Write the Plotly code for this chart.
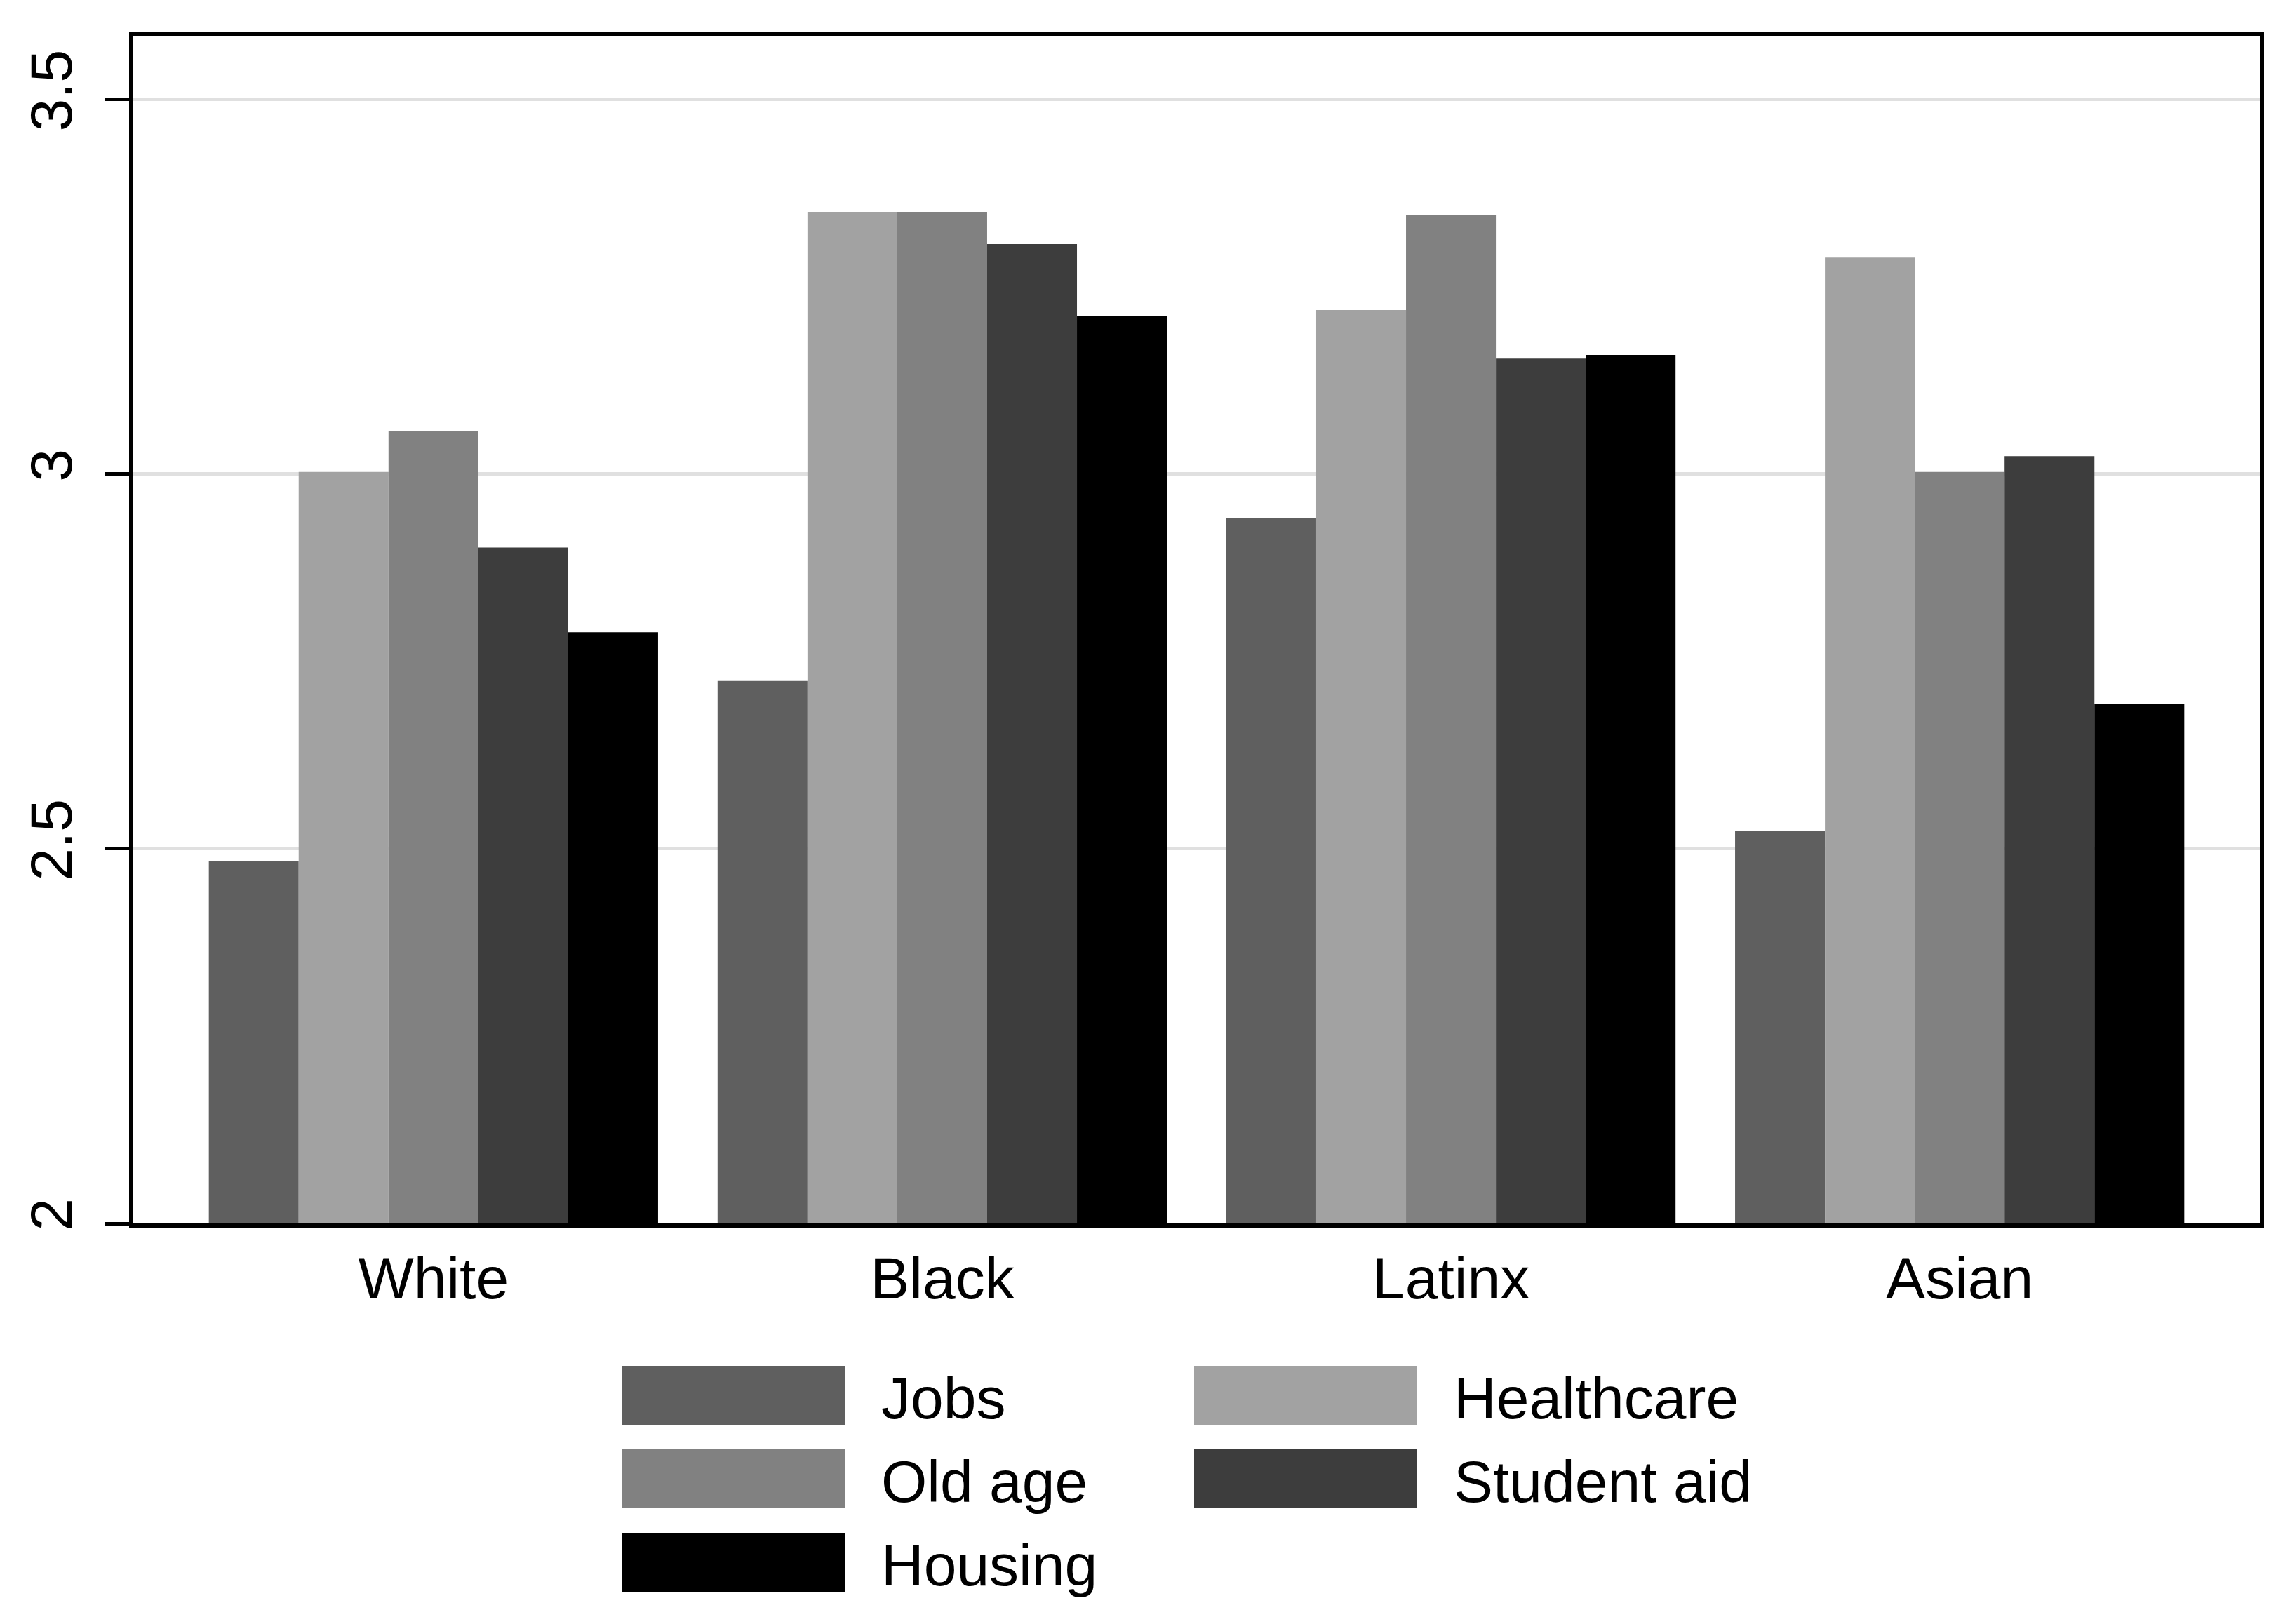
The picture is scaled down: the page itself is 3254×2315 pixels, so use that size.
import plotly.graph_objects as go

# ---- data ----
categories = ["White", "Black", "Latinx", "Asian"]
series_names = ["Jobs", "Healthcare", "Old age", "Student aid", "Housing"]
jobs = [2.484, 2.724, 2.941, 2.524]
healthcare = [3.003, 3.350, 3.219, 3.289]
old_age = [3.058, 3.350, 3.346, 3.003]
student_aid = [2.902, 3.307, 3.154, 3.024]
housing = [2.789, 3.211, 3.159, 2.693]
series_values = [jobs, healthcare, old_age, student_aid, housing]
series_colors = ["#5f5f5f", "#a2a2a2", "#818181", "#3d3d3d", "#000000"]
y_tickvals = [2, 2.5, 3, 3.5]
y_ticktext = ["2", "2.5", "3", "3.5"]

W, H = 3254, 2315
ML, MR, MT, MB = 182, 41, 43, 579
PW, PH = W - ML - MR, H - MT - MB
FONT = "Liberation Sans, Arial, Helvetica, sans-serif"


def px_x(p):
    return (p - ML) / PW


def px_y(p):
    return (H - MB - p) / PH


fig = go.Figure()
for name, vals, col in zip(series_names, series_values, series_colors):
    fig.add_trace(go.Bar(
        x=categories, y=vals, name=name,
        marker=dict(color=col, line=dict(width=0)),
        showlegend=False,
    ))

# ---- legend drawn as layout shapes / annotations (2 columns, row-major) ----
col_x0 = [878, 1694]
sw_w, sw_h = 318, 84
row_top0, row_pitch = 1939, 119
text_gap = 50
shapes = []
annotations = []
for i, (name, col) in enumerate(zip(series_names, series_colors)):
    r, c = divmod(i, 2)
    x0 = col_x0[c]
    y0 = row_top0 + r * row_pitch
    shapes.append(dict(
        type="rect", xref="paper", yref="paper",
        x0=px_x(x0), x1=px_x(x0 + sw_w),
        y0=px_y(y0 + sw_h), y1=px_y(y0),
        fillcolor=col, line=dict(width=0), layer="above",
    ))
    annotations.append(dict(
        xref="paper", yref="paper",
        x=px_x(x0 + sw_w + text_gap), y=px_y(y0 + sw_h / 2 + 4),
        xanchor="left", yanchor="middle", showarrow=False,
        text=name, font=dict(family=FONT, size=84, color="black"),
    ))

fig.update_layout(
    width=W, height=H,
    margin=dict(l=ML, r=MR, t=MT, b=MB, pad=0),
    paper_bgcolor="white", plot_bgcolor="white",
    barmode="group", bargap=0.117, bargroupgap=0,
    font=dict(family=FONT, size=84, color="black"),
    shapes=shapes, annotations=annotations,
    showlegend=False,
)
fig.update_xaxes(
    range=[-0.59, 3.59],
    showline=True, linecolor="black", linewidth=6, mirror=True,
    ticks="", showgrid=False, zeroline=False,
    tickfont=dict(family=FONT, size=84, color="black"),
    ticklabelstandoff=0,
)
fig.update_yaxes(
    range=[2, 3.585],
    tickvals=y_tickvals, ticktext=y_ticktext, tickangle=-90,
    showline=True, linecolor="black", linewidth=6, mirror=True,
    ticks="outside", ticklen=34, tickwidth=5, tickcolor="black",
    showgrid=True, gridcolor="#e0e0e0", gridwidth=5, zeroline=False,
    tickfont=dict(family=FONT, size=84, color="black"),
    ticklabelstandoff=14,
)

fig.write_html("out.html")
